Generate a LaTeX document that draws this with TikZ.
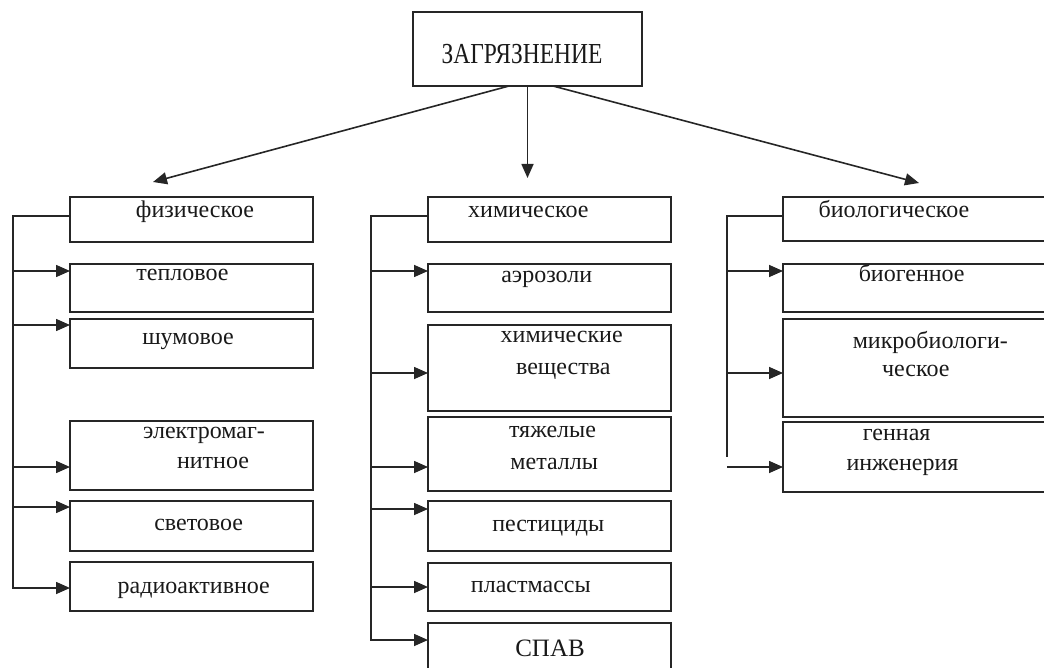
\documentclass[tikz,border=0pt]{standalone}
\usepackage{fontspec}
\setmainfont{Liberation Serif}
\usetikzlibrary{arrows.meta,calc}
\tikzset{
  box/.style={draw=black!85, line width=1.8pt, inner sep=0pt, outer sep=0pt},
  lbl/.style={font=\fontsize{24}{26}\selectfont, anchor=base, text=black!90, inner sep=0pt},
  conn/.style={draw=black!85, line width=1.6pt},
  arr/.style={conn, -{Triangle[length=14pt,width=12pt]}},
}
\begin{document}
\begin{tikzpicture}[x=1pt,y=-1pt]
\useasboundingbox (0,0) rectangle (1044,668);
\clip (0,0) rectangle (1044,668);
% top box
\node[box, minimum width=229pt, minimum height=74pt] (zag) at (527.5,49) {};
\node[lbl, font=\fontsize{29}{30}\selectfont, xscale=0.81] (zagT) at (522,64) {ЗАГРЯЗНЕНИЕ};
% top arrows
\coordinate (s1) at ($(zag.south)+(-18.5,0)$);
\coordinate (s2) at ($(zag.south)+(0,0)$);
\coordinate (s3) at ($(zag.south)+(25.5,0)$);
\coordinate (e1) at (153,182);
\coordinate (e2) at (527.5,178);
\coordinate (e3) at (919,183);
\draw[arr] (s1) -- (e1);
\draw[arr] (s2) -- (e2);
\draw[arr] (s3) -- (e3);

% ---- left column ----
\node[box, minimum width=243pt, minimum height=45pt] (fiz) at (191.5,219.5) {};
\node[box, minimum width=243pt, minimum height=48pt] (tep) at (191.5,288) {};
\node[box, minimum width=243pt, minimum height=49pt] (shum) at (191.5,343.5) {};
\node[box, minimum width=243pt, minimum height=69pt] (elm) at (191.5,455.5) {};
\node[box, minimum width=243pt, minimum height=50pt] (svet) at (191.5,526) {};
\node[box, minimum width=243pt, minimum height=49pt] (rad) at (191.5,586.5) {};
\node[lbl] at (195,218) {физическое};
\node[lbl] at (182.5,281) {тепловое};
\node[lbl] at (188,344) {шумовое};
\node[lbl] at (204,438.5) {электромаг-};
\node[lbl] at (213,468) {нитное};
\node[lbl] at (198.7,530.5) {световое};
\node[lbl] at (193.8,593) {радиоактивное};
\coordinate (fT) at (13,216);
\coordinate (fB) at (13,588);
\coordinate (fa1) at (13,271);
\coordinate (fa2) at (13,325);
\coordinate (fa3) at (13,467);
\coordinate (fa4) at (13,507);
\draw[arr] (fT -| fiz.west) -- (fT) -- (fB) -- (fB -| rad.west);
\draw[arr] (fa1) -- (fa1 -| tep.west);
\draw[arr] (fa2) -- (fa2 -| shum.west);
\draw[arr] (fa3) -- (fa3 -| elm.west);
\draw[arr] (fa4) -- (fa4 -| svet.west);

% ---- middle column ----
\node[box, minimum width=243pt, minimum height=45pt] (him) at (549.5,219.5) {};
\node[box, minimum width=243pt, minimum height=48pt] (aer) at (549.5,288) {};
\node[box, minimum width=243pt, minimum height=86pt] (hv) at (549.5,368) {};
\node[box, minimum width=243pt, minimum height=74pt] (tm) at (549.5,454) {};
\node[box, minimum width=243pt, minimum height=50pt] (pest) at (549.5,526) {};
\node[box, minimum width=243pt, minimum height=48pt] (plast) at (549.5,587) {};
\node[box, minimum width=243pt, minimum height=77pt] (spav) at (549.5,661.5) {};
\node[lbl] at (528.3,218) {химическое};
\node[lbl] at (546.7,282.5) {аэрозоли};
\node[lbl] at (561.7,342.5) {химические};
\node[lbl] at (563.3,374.5) {вещества};
\node[lbl] at (552.5,437) {тяжелые};
\node[lbl] at (554.2,469.5) {металлы};
\node[lbl] at (548.3,531.5) {пестициды};
\node[lbl] at (530.8,592.5) {пластмассы};
\node[lbl, font=\fontsize{25}{26}\selectfont] at (550,656.7) {СПАВ};
\coordinate (mT) at (371,216);
\coordinate (mB) at (371,640);
\coordinate (ma1) at (371,271);
\coordinate (ma2) at (371,373);
\coordinate (ma3) at (371,467);
\coordinate (ma4) at (371,509);
\coordinate (ma5) at (371,587);
\draw[arr] (mT -| him.west) -- (mT) -- (mB) -- (mB -| spav.west);
\draw[arr] (ma1) -- (ma1 -| aer.west);
\draw[arr] (ma2) -- (ma2 -| hv.west);
\draw[arr] (ma3) -- (ma3 -| tm.west);
\draw[arr] (ma4) -- (ma4 -| pest.west);
\draw[arr] (ma5) -- (ma5 -| plast.west);

% ---- right column ----
\node[box, minimum width=277pt, minimum height=44pt] (bio) at (921.5,219) {};
\node[box, minimum width=277pt, minimum height=48pt] (biog) at (921.5,288) {};
\node[box, minimum width=277pt, minimum height=98pt] (mikro) at (921.5,368) {};
\node[box, minimum width=277pt, minimum height=70pt] (gen) at (921.5,457) {};
\node[lbl] at (894,218) {биологическое};
\node[lbl] at (911.7,282) {биогенное};
\node[lbl] at (930.3,348) {микробиологи-};
\node[lbl] at (915.8,376) {ческое};
\node[lbl] at (896.7,440) {генная};
\node[lbl] at (902.5,470) {инженерия};
\coordinate (rT) at (727,216);
\coordinate (rB) at (727,457);
\coordinate (ra1) at (727,271);
\coordinate (ra2) at (727,373);
\coordinate (ra3) at (727,467);
\draw[conn] (rT -| bio.west) -- (rT) -- (rB);
\draw[arr] (ra1) -- (ra1 -| biog.west);
\draw[arr] (ra2) -- (ra2 -| mikro.west);
\draw[arr] (ra3) -- (ra3 -| gen.west);
\end{tikzpicture}
\end{document}
